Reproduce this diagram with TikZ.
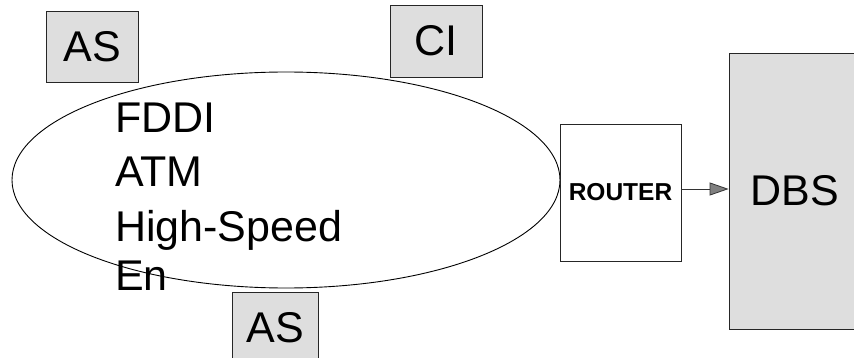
\documentclass[tikz,border=0pt]{standalone}
\usepackage{fontspec}
\setmainfont{Liberation Sans}
\usetikzlibrary{shapes.geometric,arrows.meta}
\tikzset{
  graybox/.style={draw=black!85, fill=black!13, line width=0.8pt, inner sep=0pt,
    font=\fontsize{43}{50}\selectfont},
  routerbox/.style={draw=black!85, fill=white, line width=0.8pt, inner sep=0pt,
    font=\fontsize{24.5}{28}\selectfont\bfseries},
  nettext/.style={anchor=base west, inner sep=0pt, font=\fontsize{43}{50}\selectfont},
  link/.style={draw=black!80, line width=0.8pt,
    -{Triangle[length=19pt,width=13pt,fill=black!50]}}
}
\begin{document}
\begin{tikzpicture}[x=1pt,y=-1pt]
\useasboundingbox (0,0) rectangle (854,358);
\node[draw, ellipse, line width=0.9pt, minimum width=548pt, minimum height=216pt, inner sep=0pt] (net) at (286,180) {};
\node[nettext] (t1) at (115,133) {FDDI};
\node[nettext] (t2) at (115,187) {ATM};
\node[nettext] (t3) at (115,241) {High-Speed};
\node[nettext] (t4) at (115,290) {En};
\node[graybox, minimum width=92pt, minimum height=71pt] (as1) at (92,46.5) {AS};
\node[graybox, minimum width=92pt, minimum height=72pt] (ci) at (436,41) {CI};
\node[graybox, minimum width=86pt, minimum height=72pt] (as2) at (275,328) {AS};
\node[routerbox, minimum width=121pt, minimum height=137pt] (router) at (620.5,192.5) {ROUTER};
\node[graybox, minimum width=131pt, minimum height=276pt] (dbs) at (794.5,191) {DBS};
\draw[link] ([yshift=3.5pt]router.east) -- ([yshift=3.5pt]router.east -| dbs.west);
\end{tikzpicture}
\end{document}
